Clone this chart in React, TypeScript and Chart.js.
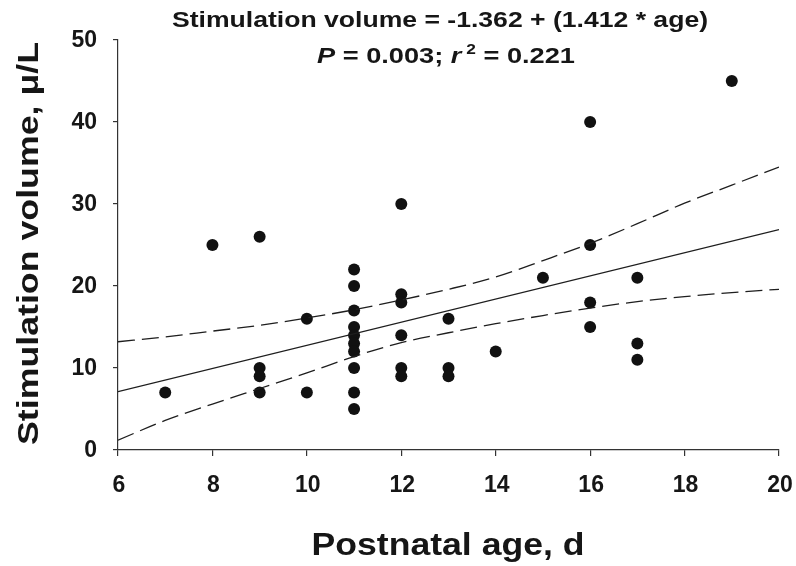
import React, { useEffect, useRef } from "react";
import { Chart, registerables } from "chart.js";

Chart.register(...registerables);

// ---- data ----
const ages = [7, 8, 9, 9, 9, 9, 10, 10, 11, 11, 11, 11, 11, 11, 11, 11, 11, 11, 12, 12, 12, 12, 12, 12, 13, 13, 13, 14, 15, 16, 16, 16, 16, 17, 17, 17, 19];
const volumes = [7, 25, 26, 10, 9, 7, 16, 7, 22, 20, 17, 15, 14, 13, 12, 10, 7, 5, 30, 19, 18, 14, 10, 9, 16, 10, 9, 12, 21, 40, 25, 18, 15, 21, 13, 11, 45];

const fitAges = [6, 20];
const fitVolumes = [7.11, 26.88];

const bandAges = [6, 7, 8, 9, 10, 11, 12, 13, 14, 15, 16, 17, 18, 19, 20];
const upperBand = [13.2, 13.8, 14.5, 15.2, 16.1, 17.1, 18.3, 19.6, 21.1, 23.1, 25.2, 27.6, 30.1, 32.3, 34.5];
const lowerBand = [1.2, 3.6, 5.6, 7.5, 9.4, 11.4, 13.1, 14.3, 15.4, 16.4, 17.3, 18.1, 18.7, 19.2, 19.6];

const xTickValues = [6, 8, 10, 12, 14, 16, 18, 20];
const yTickValues = [0, 10, 20, 30, 40, 50];

const titleLine1 = "Stimulation volume = -1.362 + (1.412 * age)";
const titleLine2 = [
  { t: "P", italic: true },
  { t: " = 0.003; " },
  { t: "r", italic: true },
  { t: " 2", sup: true },
  { t: " = 0.221" },
];
const xTitle = "Postnatal age, d";
const yTitle = "Stimulation volume, \u03bc/L";

const FAMILY = '"Liberation Sans", Arial, Helvetica, sans-serif';
const INK = "#161616";

function fontStr(size: number, italic = false) {
  return `${italic ? "italic " : ""}bold ${size}px ${FAMILY}`;
}

function drawText(
  ctx: CanvasRenderingContext2D,
  text: string,
  x: number,
  y: number,
  size: number,
  sx: number,
  align: "left" | "center" | "right",
  baseline: CanvasTextBaseline = "alphabetic"
) {
  ctx.save();
  ctx.font = fontStr(size);
  ctx.fillStyle = INK;
  ctx.textBaseline = baseline;
  ctx.textAlign = "left";
  const w = ctx.measureText(text).width * sx;
  const left = align === "center" ? x - w / 2 : align === "right" ? x - w : x;
  ctx.translate(left, y);
  ctx.scale(sx, 1);
  ctx.fillText(text, 0, 0);
  ctx.restore();
}

function drawFitted(
  ctx: CanvasRenderingContext2D,
  text: string,
  cx: number,
  y: number,
  size: number,
  target: number
) {
  ctx.save();
  ctx.font = fontStr(size);
  const sx = target / ctx.measureText(text).width;
  ctx.restore();
  drawText(ctx, text, cx, y, size, sx, "center");
}

const textPlugin = {
  id: "textPlugin",
  afterDraw(chart: any) {
    const ctx: CanvasRenderingContext2D = chart.ctx;
    const xs = chart.scales.x;
    const ys = chart.scales.y;
    const tickSize = 23;
    const tickSx = 1.0;

    // y tick labels
    yTickValues.forEach((v) => {
      drawText(ctx, String(v), 97, ys.getPixelForValue(v) + 1, tickSize, tickSx, "right", "middle");
    });
    // x tick labels
    xTickValues.forEach((v) => {
      drawText(ctx, String(v), xs.getPixelForValue(v) + 1, 486, tickSize, tickSx, "center", "middle");
    });

    // title line 1
    drawFitted(ctx, titleLine1, 440, 27, 22, 536);

    // title line 2 (mixed styles)
    ctx.save();
    const size2 = 22;
    const supSize = 14;
    const widths = titleLine2.map((seg) => {
      ctx.font = seg.sup ? fontStr(supSize) : fontStr(size2, !!seg.italic);
      return ctx.measureText(seg.t).width;
    });
    const raw = widths.reduce((a, b) => a + b, 0);
    const sx2 = 258 / raw;
    let cur = 446 - 258 / 2;
    ctx.fillStyle = INK;
    ctx.textBaseline = "alphabetic";
    ctx.textAlign = "left";
    titleLine2.forEach((seg, i) => {
      ctx.save();
      ctx.font = seg.sup ? fontStr(supSize) : fontStr(size2, !!seg.italic);
      ctx.translate(cur, seg.sup ? 63 - 9 : 63);
      ctx.scale(sx2, 1);
      ctx.fillText(seg.t, 0, 0);
      ctx.restore();
      cur += widths[i] * sx2;
    });
    ctx.restore();

    // x axis title
    drawFitted(ctx, xTitle, 448, 555, 32, 273);

    // y axis title (rotated)
    ctx.save();
    ctx.translate(38, 243.5);
    ctx.rotate(-Math.PI / 2);
    drawFitted(ctx, yTitle, 0, 0, 30, 403);
    ctx.restore();
  },
};

export default function App() {
  const ref = useRef<HTMLCanvasElement | null>(null);

  useEffect(() => {
    if (!ref.current) return;
    const lineColor = "#1e1e1e";
    const chart = new Chart(ref.current, {
      type: "scatter",
      data: {
        datasets: [
          {
            type: "line",
            data: bandAges.map((x, i) => ({ x, y: upperBand[i] })),
            borderColor: lineColor,
            borderWidth: 1.3,
            borderDash: [17, 7],
            pointRadius: 0,
            cubicInterpolationMode: "monotone",
            fill: false,
          },
          {
            type: "line",
            data: bandAges.map((x, i) => ({ x, y: lowerBand[i] })),
            borderColor: lineColor,
            borderWidth: 1.3,
            borderDash: [17, 7],
            pointRadius: 0,
            cubicInterpolationMode: "monotone",
            fill: false,
          },
          {
            type: "line",
            data: fitAges.map((x, i) => ({ x, y: fitVolumes[i] })),
            borderColor: lineColor,
            borderWidth: 1.3,
            pointRadius: 0,
            fill: false,
          },
          {
            type: "scatter",
            data: ages.map((x, i) => ({ x, y: volumes[i] })),
            pointRadius: 6,
            backgroundColor: "#111111",
            borderWidth: 0,
          },
        ],
      } as any,
      options: {
        responsive: false,
        animation: false,
        layout: { padding: { top: 40, right: 17, left: 0, bottom: 0 } },
        plugins: {
          legend: { display: false },
          tooltip: { enabled: false },
        },
        scales: {
          x: {
            type: "linear",
            min: 6,
            max: 20,
            ticks: { stepSize: 2, display: false },
            grid: { drawOnChartArea: false, drawTicks: true, tickLength: 6, color: "#333", lineWidth: 1.2 },
            border: { color: "#333", width: 1.2 },
            afterFit: (s: any) => {
              s.height = 116;
            },
          },
          y: {
            type: "linear",
            min: 0,
            max: 50,
            ticks: { stepSize: 10, display: false },
            grid: { drawOnChartArea: false, drawTicks: true, tickLength: 5, color: "#333", lineWidth: 1.2 },
            border: { color: "#333", width: 1.2 },
            afterFit: (s: any) => {
              s.width = 118;
            },
          },
        },
      } as any,
      plugins: [textPlugin],
    });
    return () => chart.destroy();
  }, []);

  return (
    <div style={{ position: "absolute", left: 0, top: 0, width: 796, height: 566, background: "#fff" }}>
      <canvas ref={ref} width={796} height={566} style={{ display: "block" }} />
    </div>
  );
}
